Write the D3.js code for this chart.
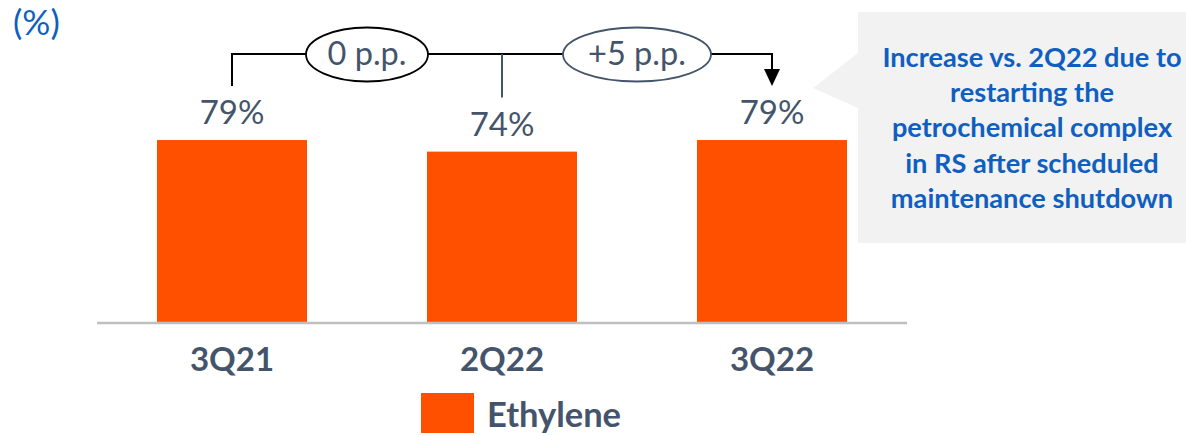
<!DOCTYPE html>
<html>
<head>
<meta charset="utf-8">
<script src="https://cdn.jsdelivr.net/npm/d3@7"></script>
<style>
  html, body { margin: 0; padding: 0; background: #fff; }
  svg { display: block; }
  text { font-family: Lato, "Open Sans", sans-serif; }
</style>
</head>
<body>
<svg id="chart" width="1186" height="436"></svg>
<script>
// Ethylene utilization rate by quarter
const categories = ["3Q21", "2Q22", "3Q22"];
const ethylene = [79, 74, 79];
const seriesName = "Ethylene";
const unitLabel = "(%)";
// Change between consecutive quarters, in percentage points
const changeLabels = ["0 p.p.", "+5 p.p."];
const calloutLines = [
  "Increase vs. 2Q22 due to",
  "restarting the",
  "petrochemical complex",
  "in RS after scheduled",
  "maintenance shutdown"
];

const ORANGE = "#ff5000";
const SLATE = "#44546a";
const BLUE = "#0f5fc0";

const svg = d3.select("#chart");

const x = d3.scaleBand()
  .domain(categories)
  .range([97, 907])
  .paddingInner(4 / 9)
  .paddingOuter(2 / 9);

const y = d3.scaleLinear()
  .domain([0, 100])
  .range([323, 91.4]);

const cx = c => x(c) + x.bandwidth() / 2;

// unit label
svg.append("text")
  .attr("x", 13).attr("y", 35)
  .attr("fill", BLUE)
  .attr("font-size", 35)
  .text(unitLabel);

// callout box with pointer
const callout = d3.path();
callout.moveTo(858, 12);
callout.lineTo(1186, 12);
callout.lineTo(1186, 243);
callout.lineTo(858, 243);
callout.lineTo(858, 108);
callout.lineTo(813, 88);
callout.lineTo(858, 53);
callout.closePath();
svg.append("path").attr("d", callout.toString()).attr("fill", "#f2f2f2");

svg.append("g")
  .selectAll("text")
  .data(calloutLines)
  .join("text")
  .attr("x", 1032)
  .attr("y", (d, i) => 67 + i * 35.2)
  .attr("text-anchor", "middle")
  .attr("fill", BLUE)
  .attr("font-size", 27.2)
  .attr("font-weight", 700)
  .text(d => d);

// bars
const data = categories.map((c, i) => ({ cat: c, value: ethylene[i] }));

svg.append("g")
  .selectAll("rect")
  .data(data)
  .join("rect")
  .attr("x", d => x(d.cat))
  .attr("y", d => y(d.value))
  .attr("width", x.bandwidth())
  .attr("height", d => y(0) - y(d.value))
  .attr("fill", ORANGE);

// value labels
svg.append("g")
  .selectAll("text")
  .data(data)
  .join("text")
  .attr("x", d => cx(d.cat))
  .attr("y", d => y(d.value) - 16)
  .attr("text-anchor", "middle")
  .attr("fill", SLATE)
  .attr("font-size", 33)
  .text(d => d.value + "%");

// x axis
const xAxis = d3.axisBottom(x).tickSize(0).tickPadding(0);
const gx = svg.append("g").attr("transform", `translate(0,${y(0)})`).call(xAxis);
gx.select(".domain").attr("stroke", "#bfbfbf").attr("stroke-width", 2.5)
  .attr("d", "M97,0H907");
gx.selectAll(".tick text")
  .attr("y", 48)
  .attr("dy", 0)
  .attr("fill", SLATE)
  .attr("font-size", 33)
  .attr("font-weight", 700)
  .attr("font-family", "Lato, sans-serif");

// change bracket across the quarters
const lineY = 54;
const gap = 54;
const br = svg.append("g");
const x0 = cx(categories[0]), x1 = cx(categories[1]), x2 = cx(categories[2]);

br.append("path")
  .attr("d", `M${x0},${y(ethylene[0]) - gap}V${lineY}H${x2}V${y(ethylene[2]) - gap - 15}`)
  .attr("fill", "none").attr("stroke", "#000").attr("stroke-width", 2);

br.append("line")
  .attr("x1", x1).attr("x2", x1)
  .attr("y1", lineY).attr("y2", y(ethylene[1]) - gap)
  .attr("stroke", SLATE).attr("stroke-width", 2);

// arrowhead into the latest quarter
const tipY = y(ethylene[2]) - gap;
br.append("path")
  .attr("d", `M${x2 - 8},${tipY - 17}L${x2 + 8},${tipY - 17}L${x2},${tipY}Z`)
  .attr("fill", "#000");

const bubbles = [
  { cx: (x0 + x1) / 2, rx: 61, stroke: "#000", label: changeLabels[0] },
  { cx: (x1 + x2) / 2, rx: 74, stroke: SLATE, label: changeLabels[1] }
];

const bub = br.selectAll("g.bubble").data(bubbles).join("g").attr("class", "bubble");
bub.append("ellipse")
  .attr("cx", d => d.cx).attr("cy", lineY + 0.5)
  .attr("rx", d => d.rx).attr("ry", 27)
  .attr("fill", "#fff")
  .attr("stroke", d => d.stroke).attr("stroke-width", 1.8);
bub.append("text")
  .attr("x", d => d.cx).attr("y", 65)
  .attr("text-anchor", "middle")
  .attr("fill", SLATE)
  .attr("font-size", 32.5)
  .text(d => d.label);

// legend
const lg = svg.append("g");
lg.append("rect")
  .attr("x", 421).attr("y", 393)
  .attr("width", 53).attr("height", 40)
  .attr("fill", ORANGE);
lg.append("text")
  .attr("x", 487).attr("y", 427)
  .attr("fill", SLATE)
  .attr("font-size", 34.5)
  .attr("font-weight", 700)
  .text(seriesName);
</script>
</body>
</html>
